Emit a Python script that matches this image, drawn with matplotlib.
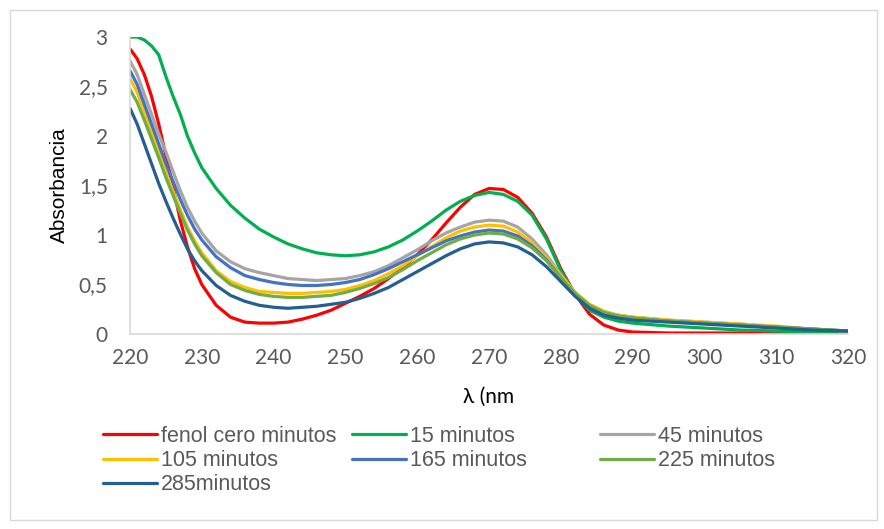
import matplotlib
matplotlib.use("Agg")
import matplotlib.pyplot as plt
from matplotlib.patches import Rectangle

# wavelengths (nm)
wl = [220, 221, 222, 223, 224, 225, 226, 227, 228, 229, 230,
      232, 234, 236, 238, 240, 242, 244, 246, 248, 250, 252, 254, 256, 258, 260,
      262, 264, 266, 268, 270, 272, 274, 276, 278, 280, 282, 284, 286, 288, 290,
      295, 300, 305, 310, 315, 320]

fenol_0 = [2.88, 2.78, 2.62, 2.40, 2.12, 1.80, 1.48, 1.15, 0.88, 0.66, 0.50,
           0.29, 0.17, 0.12, 0.11, 0.11, 0.12, 0.15, 0.19, 0.24, 0.31, 0.38, 0.46, 0.56, 0.67, 0.80,
           0.95, 1.12, 1.28, 1.41, 1.47, 1.46, 1.38, 1.22, 0.98, 0.66, 0.40, 0.20, 0.09, 0.04, 0.02,
           0.01, 0.01, 0.01, 0.01, 0.01, 0.01]
m15 = [3.00, 3.00, 2.97, 2.91, 2.82, 2.60, 2.40, 2.22, 2.00, 1.83, 1.68,
       1.47, 1.30, 1.17, 1.06, 0.98, 0.91, 0.86, 0.82, 0.80, 0.79, 0.80, 0.83, 0.88, 0.95, 1.04,
       1.14, 1.25, 1.34, 1.40, 1.43, 1.41, 1.34, 1.20, 0.96, 0.64, 0.40, 0.24, 0.17, 0.13, 0.11,
       0.08, 0.06, 0.04, 0.03, 0.02, 0.01]
m45 = [2.76, 2.62, 2.42, 2.22, 2.02, 1.84, 1.64, 1.45, 1.28, 1.14, 1.02,
       0.84, 0.73, 0.66, 0.62, 0.59, 0.56, 0.55, 0.54, 0.55, 0.56, 0.59, 0.63, 0.69, 0.77, 0.85,
       0.94, 1.02, 1.08, 1.13, 1.15, 1.14, 1.08, 0.96, 0.80, 0.60, 0.42, 0.29, 0.22, 0.19, 0.17,
       0.14, 0.12, 0.10, 0.07, 0.05, 0.03]
m105 = [2.58, 2.44, 2.24, 2.04, 1.84, 1.64, 1.44, 1.26, 1.08, 0.94, 0.82,
        0.64, 0.53, 0.47, 0.43, 0.42, 0.41, 0.41, 0.42, 0.43, 0.45, 0.49, 0.54, 0.61, 0.69, 0.79,
        0.88, 0.97, 1.04, 1.08, 1.10, 1.09, 1.03, 0.92, 0.77, 0.59, 0.42, 0.30, 0.23, 0.19, 0.17,
        0.14, 0.12, 0.10, 0.08, 0.05, 0.03]
m165 = [2.66, 2.52, 2.32, 2.12, 1.92, 1.72, 1.54, 1.36, 1.20, 1.06, 0.95,
        0.78, 0.67, 0.59, 0.55, 0.52, 0.50, 0.49, 0.49, 0.50, 0.52, 0.55, 0.60, 0.66, 0.73, 0.80,
        0.87, 0.94, 0.99, 1.03, 1.05, 1.04, 0.99, 0.89, 0.75, 0.57, 0.40, 0.28, 0.21, 0.18, 0.16,
        0.13, 0.11, 0.09, 0.07, 0.05, 0.03]
m225 = [2.47, 2.34, 2.16, 1.97, 1.78, 1.58, 1.40, 1.22, 1.05, 0.91, 0.79,
        0.62, 0.50, 0.44, 0.40, 0.38, 0.37, 0.37, 0.38, 0.39, 0.42, 0.46, 0.51, 0.57, 0.65, 0.74,
        0.82, 0.90, 0.96, 1.00, 1.02, 1.01, 0.96, 0.87, 0.74, 0.57, 0.41, 0.29, 0.22, 0.18, 0.16,
        0.13, 0.11, 0.09, 0.07, 0.05, 0.03]
m285 = [2.28, 2.12, 1.92, 1.72, 1.52, 1.34, 1.17, 1.01, 0.86, 0.74, 0.64,
        0.49, 0.39, 0.33, 0.29, 0.27, 0.26, 0.27, 0.28, 0.30, 0.32, 0.36, 0.41, 0.47, 0.55, 0.63,
        0.71, 0.79, 0.86, 0.91, 0.93, 0.92, 0.88, 0.80, 0.68, 0.53, 0.38, 0.26, 0.19, 0.16, 0.14,
        0.12, 0.10, 0.08, 0.06, 0.04, 0.03]

series = [fenol_0, m15, m45, m105, m165, m225, m285]
labels = ["fenol cero minutos", "15 minutos", "45 minutos", "105 minutos",
          "165 minutos", "225 minutos", "285minutos"]
colors = ["#FF0000", "#00B050", "#A5A5A5", "#FFC000", "#4472C4", "#70AD47", "#255E91"]

GREY = "#595959"
fig = plt.figure(figsize=(8.84, 5.29), dpi=100)
fig.patches.append(Rectangle((10 / 884, 1 - 520 / 529), 867 / 884, 510 / 529,
                             transform=fig.transFigure, fill=False,
                             edgecolor="#d9d9d9", lw=1))
ax = fig.add_axes([130 / 884, 1 - 334 / 529, 718 / 884, 297 / 529])

handles = []
for y, lab, c in zip(series, labels, colors):
    h, = ax.plot(wl, y, color=c, lw=2.3, label=lab,
                 solid_joinstyle="round", solid_capstyle="round")
    handles.append(h)

ax.set_xlim(220, 320)
ax.set_ylim(0, 3)
ax.set_xticks(range(220, 321, 10))
ax.set_yticks([0, 0.5, 1, 1.5, 2, 2.5, 3])
ax.set_yticklabels(["0", "0,5", "1", "1,5", "2", "2,5", "3"])
ax.tick_params(length=0, labelcolor=GREY, labelsize=15)
ax.tick_params(axis="x", pad=10)
ax.tick_params(axis="y", pad=16)
for t in ax.get_xticklabels() + ax.get_yticklabels():
    t.set_family(["Lato", "DejaVu Sans"])
for s in ["top", "right"]:
    ax.spines[s].set_visible(False)
for s in ["left", "bottom"]:
    ax.spines[s].set_color("#d9d9d9")
    ax.spines[s].set_linewidth(1.2)

ax.set_xlabel("λ (nm", fontsize=15, family=["Lato", "DejaVu Sans"], labelpad=14)
ax.set_ylabel("Absorbancia", fontsize=15, family="Liberation Sans", labelpad=7)

# legend in three columns
cols = [[0, 3, 6], [1, 4], [2, 5]]
col_x = [103, 352, 600]
for idx, x in zip(cols, col_x):
    leg = fig.legend([handles[i] for i in idx], [labels[i] for i in idx],
                     loc="upper left", bbox_to_anchor=(x / 884, 1 - 426 / 529),
                     frameon=False, borderpad=0, borderaxespad=0,
                     handlelength=2.5, handletextpad=0.2, labelspacing=0.15,
                     prop={"family": "Liberation Sans", "size": 15.5})
    for t in leg.get_texts():
        t.set_color(GREY)

fig.savefig("out.png", dpi=100)
